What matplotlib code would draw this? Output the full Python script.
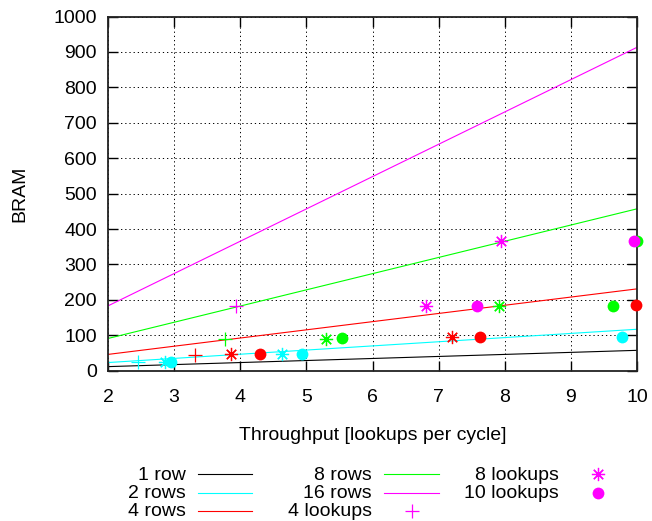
import matplotlib
matplotlib.use("Agg")
import matplotlib.pyplot as plt
from matplotlib.lines import Line2D

plt.rcParams['font.family'] = ['Liberation Sans', 'DejaVu Sans']

# Fitted BRAM lines (value at throughput 2 and at throughput 10)
line_x = [2, 10]
row_labels = ['1 row', '2 rows', '4 rows', '8 rows', '16 rows']
row_colors = ['#000000', '#00ffff', '#ff0000', '#00ff00', '#ff00ff']
bram_1row = [11.5, 57.5]
bram_2rows = [23.0, 117.0]
bram_4rows = [46.0, 231.0]
bram_8rows = [91.0, 457.0]
bram_16rows = [183.0, 913.0]
line_values = [bram_1row, bram_2rows, bram_4rows, bram_8rows, bram_16rows]

# Measured designs, 4 lookups
lk4_x = [2.46, 3.32, 3.77, 3.93]
lk4_y = [24, 45, 90, 184]
lk4_c = ['#00ffff', '#ff0000', '#00ff00', '#ff00ff']

# Measured designs, 8 lookups
lk8_x = [2.86, 3.86, 4.63, 5.30, 7.20, 6.81, 7.92, 7.95]
lk8_y = [24, 46, 46, 90, 94, 183, 183, 366]
lk8_c = ['#00ffff', '#ff0000', '#00ffff', '#00ff00', '#ff0000', '#ff00ff', '#00ff00', '#ff00ff']

# Measured designs, 10 lookups
lk10_x = [2.96, 4.30, 4.94, 5.54, 7.62, 9.77, 7.58, 9.64, 9.99, 10.0, 9.96]
lk10_y = [24, 46, 47, 91, 94, 96, 183, 183, 185, 366, 366]
lk10_c = ['#00ffff', '#ff0000', '#00ffff', '#00ff00', '#ff0000', '#00ffff',
          '#ff00ff', '#00ff00', '#ff0000', '#00ff00', '#ff00ff']

x_ticks = [2, 3, 4, 5, 6, 7, 8, 9, 10]
y_ticks = [0, 100, 200, 300, 400, 500, 600, 700, 800, 900, 1000]

W, H = 652, 521
fig = plt.figure(figsize=(W / 100, H / 100), dpi=100)
ax = fig.add_axes([108 / W, 1 - 370.7 / H, (637 - 108) / W, (370.7 - 16.5) / H])

FS = 14
LW = 0.8

for vals, col in zip(line_values, row_colors):
    ax.plot(line_x, vals, color=col, lw=LW, zorder=2)

asterisk = (8, 2, 0)
for x, y, c in zip(lk4_x, lk4_y, lk4_c):
    ax.plot([x], [y], marker='+', ms=9.5, mew=0.9, color=c, ls='none', zorder=3, clip_on=False)
for x, y, c in zip(lk8_x, lk8_y, lk8_c):
    ax.plot([x], [y], marker=asterisk, ms=9.5, mew=0.9, color=c, ls='none', zorder=3, clip_on=False)
for x, y, c in zip(lk10_x, lk10_y, lk10_c):
    ax.plot([x], [y], marker='o', ms=8.5, mew=0, color=c, ls='none', zorder=3, clip_on=False)

ax.set_xlim(2, 10)
ax.set_ylim(0, 1000)
ax.set_xticks(x_ticks)
ax.set_yticks(y_ticks)
ax.tick_params(direction='in', length=7, width=1.0, top=True, right=True,
               labelsize=FS, pad=8, colors='black')
ax.tick_params(axis='x', pad=13)
ax.grid(True, color='black', lw=0.7, ls=(0, (1.3, 3.0)))
ax.set_axisbelow(True)
for s in ax.spines.values():
    s.set_linewidth(1.3)
    s.set_color('#222222')

ax.set_xlabel('Throughput [lookups per cycle]', fontsize=FS, labelpad=15)
ax.set_ylabel('BRAM', fontsize=FS, labelpad=18)

# Key below the plot, three columns: label on the left, sample on the right
def fy(py):
    return 1 - py / H

rows_y = [474, 493, 511]
key = [
    (186, 197.5, 252, rows_y[0], 'line', row_colors[0], row_labels[0]),
    (186, 197.5, 252, rows_y[1], 'line', row_colors[1], row_labels[1]),
    (186, 197.5, 252, rows_y[2], 'line', row_colors[2], row_labels[2]),
    (372, 384, 439, rows_y[0], 'line', row_colors[3], row_labels[3]),
    (372, 384, 439, rows_y[1], 'line', row_colors[4], row_labels[4]),
    (372, 384, 439, rows_y[2], '+', '#ff00ff', '4 lookups'),
    (559, 571, 626, rows_y[0], asterisk, '#ff00ff', '8 lookups'),
    (559, 571, 626, rows_y[1], 'o', '#ff00ff', '10 lookups'),
]
for tx, x0, x1, py, kind, col, label in key:
    fig.text(tx / W, fy(py + 1), label, ha='right', va='center', fontsize=FS)
    if kind == 'line':
        fig.add_artist(Line2D([x0 / W, x1 / W], [fy(py), fy(py)], color=col, lw=LW,
                              transform=fig.transFigure))
    else:
        xm = 598 if kind != '+' else (x0 + x1) / 2
        fig.add_artist(Line2D([xm / W], [fy(py)], marker=kind, ls='none', color=col,
                              ms=9.5 if kind != 'o' else 8.5, mew=0.9 if kind != 'o' else 0,
                              transform=fig.transFigure))

fig.savefig('out.png', dpi=100)
